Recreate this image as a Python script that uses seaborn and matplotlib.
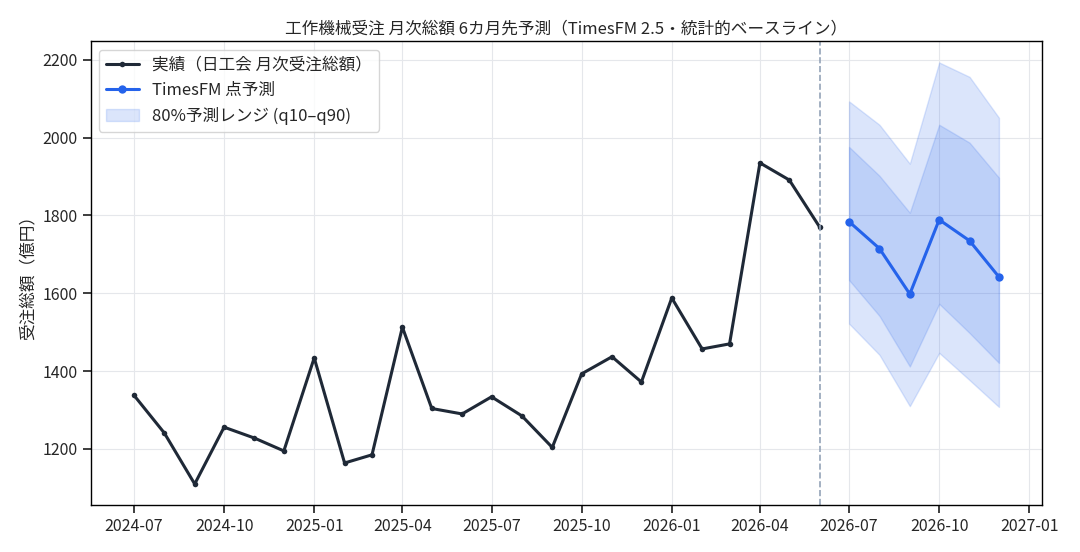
import pandas as pd
import matplotlib
matplotlib.use("Agg")
import matplotlib.pyplot as plt
import matplotlib.dates as mdates
import seaborn as sns

# 実績 (日工会 月次受注総額, 億円)
actual_months = pd.date_range("2024-07-01", "2026-06-01", freq="MS")
actual_values = [1338, 1241, 1110, 1256, 1228, 1195, 1434, 1164, 1185, 1513,
                 1304, 1290, 1334, 1285, 1204, 1393, 1437, 1372, 1588, 1457,
                 1470, 1935, 1891, 1770]

# TimesFM 予測
fc_months = pd.date_range("2026-07-01", "2026-12-01", freq="MS")
fc_point = [1784, 1715, 1598, 1789, 1735, 1642]
fc_q10 = [1522, 1442, 1310, 1447, 1377, 1308]
fc_q90 = [2093, 2033, 1933, 2193, 2156, 2051]
fc_q_lo = [1634, 1542, 1412, 1573, 1498, 1421]
fc_q_hi = [1976, 1902, 1807, 2033, 1987, 1897]

sns.set_theme(style="ticks")
plt.rcParams["font.family"] = ["Noto Sans CJK JP", "DejaVu Sans"]

df_act = pd.DataFrame({"month": actual_months, "value": actual_values})
df_fc = pd.DataFrame({"month": fc_months, "value": fc_point})

fig, ax = plt.subplots(figsize=(10.8, 5.52), dpi=100)

ax.fill_between(fc_months, fc_q10, fc_q90, color="#2563eb", alpha=0.16,
                linewidth=1, label="80%予測レンジ (q10–q90)")
ax.fill_between(fc_months, fc_q_lo, fc_q_hi, color="#2563eb", alpha=0.16,
                linewidth=1)

sns.lineplot(data=df_act, x="month", y="value", ax=ax, color="#1f2937",
             linewidth=2.2, marker="o", markersize=4, markeredgewidth=0,
             label="実績（日工会 月次受注総額）")
sns.lineplot(data=df_fc, x="month", y="value", ax=ax, color="#2563eb",
             linewidth=2.2, marker="o", markersize=6, markeredgewidth=0,
             label="TimesFM 点予測")

ax.axvline(actual_months[-1], color="#94a3b8", linestyle="--", linewidth=1.2)

ax.xaxis.set_major_locator(mdates.MonthLocator(bymonth=[1, 4, 7, 10]))
ax.xaxis.set_major_formatter(mdates.DateFormatter("%Y-%m"))
ax.set_yticks([1200, 1400, 1600, 1800, 2000, 2200])
ax.grid(True, color="#e5e7eb", linewidth=0.8)
for s in ax.spines.values():
    s.set_color("black")
    s.set_linewidth(1)

ax.set_xlabel("")
ax.set_ylabel("受注総額（億円）", fontsize=12)
ax.set_title("工作機械受注 月次総額 6カ月先予測（TimesFM 2.5・統計的ベースライン）", fontsize=12)
ax.tick_params(labelsize=11.5)

handles, labels = ax.get_legend_handles_labels()
order = [labels.index(l) for l in ["実績（日工会 月次受注総額）", "TimesFM 点予測", "80%予測レンジ (q10–q90)"]]
ax.legend([handles[i] for i in order], [labels[i] for i in order],
          loc="upper left", fontsize=12, frameon=True)

fig.subplots_adjust(left=0.084, right=0.965, top=0.925, bottom=0.085)
fig.savefig("out.png", dpi=100)
